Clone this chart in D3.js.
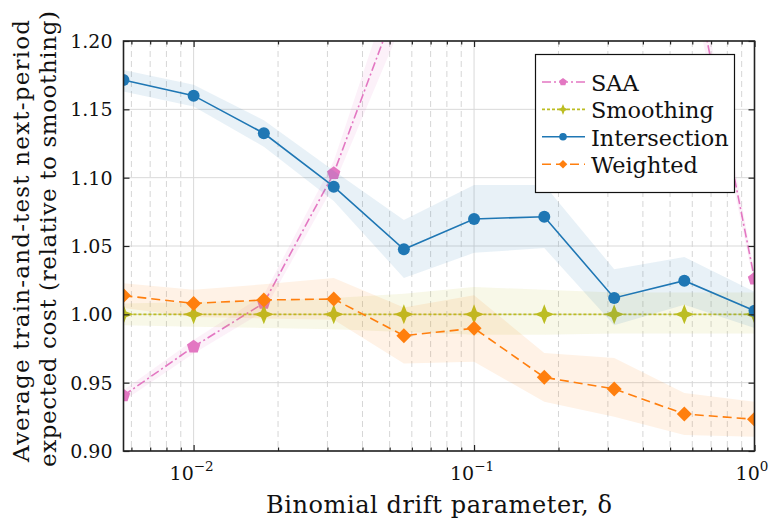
<!DOCTYPE html>
<html>
<head>
<meta charset="utf-8">
<script src="https://cdn.jsdelivr.net/npm/d3@7"></script>
<style>
  body { margin: 0; background: #fff; }
</style>
</head>
<body>
<svg id="chart" width="771" height="522"></svg>
<script>
// drift values (log-spaced, 10^-2.25 ... 10^0)
var deltas = [0.00562, 0.01, 0.0178, 0.0316, 0.0562, 0.1, 0.178, 0.316, 0.562, 1.0];

// SAA goes far off the top of the plot in the middle
var saaMean = [0.9405, 0.9763, 1.0083, 1.1032, 1.241, 1.40, 1.46, 1.41, 1.284, 1.026];
var saaLo   = [0.9365, 0.9713, 1.0023, 1.0942, 1.216, 1.36, 1.42, 1.37, 1.264, 1.021];
var saaHi   = [0.9445, 0.9813, 1.0143, 1.1122, 1.266, 1.44, 1.50, 1.45, 1.304, 1.031];

var smoothMean = [1, 1, 1, 1, 1, 1, 1, 1, 1, 1];
var smoothLo   = [0.992, 0.991, 0.990, 0.989, 0.987, 0.985, 0.985, 0.986, 0.986, 0.986];
var smoothHi   = [1.008, 1.009, 1.010, 1.012, 1.015, 1.020, 1.018, 1.016, 1.016, 1.016];

var interMean = [1.1715, 1.160, 1.1325, 1.0934, 1.0476, 1.0698, 1.0714, 1.012, 1.0246, 1.0027];
var interLo   = [1.163, 1.152, 1.1227, 1.083, 1.0266, 1.045, 1.0485, 0.992, 1.007, 0.990];
var interHi   = [1.1788, 1.168, 1.142, 1.105, 1.069, 1.0946, 1.0946, 1.033, 1.042, 1.0166];

var weightMean = [1.0137, 1.008, 1.0105, 1.0112, 0.9844, 0.9898, 0.9539, 0.9454, 0.9271, 0.9232];
var weightLo   = [1.0047, 0.998, 0.997, 0.996, 0.964, 0.9653, 0.936, 0.925, 0.9117, 0.9105];
var weightHi   = [1.0227, 1.018, 1.022, 1.0266, 1.005, 1.014, 0.9717, 0.968, 0.9424, 0.936];

var yTicks = [0.90, 0.95, 1.00, 1.05, 1.10, 1.15, 1.20];
var xMajor = [0.01, 0.1, 1];
var xMinor = [0.006, 0.007, 0.008, 0.009, 0.02, 0.03, 0.04, 0.05, 0.06, 0.07, 0.08, 0.09,
              0.2, 0.3, 0.4, 0.5, 0.6, 0.7, 0.8, 0.9];
var xExp = {0.01: "\u22122", 0.1: "\u22121", 1: "0"};

var pLeft = 123.5, pRight = 754.5, pTop = 41, pBottom = 451;
var FONT = "'DejaVu Serif', 'Liberation Serif', serif";

var svg = d3.select("#chart");
var x = d3.scaleLog().domain([Math.pow(10, -2.25), 1]).range([pLeft, pRight]);
var y = d3.scaleLinear().domain([0.9, 1.2]).range([pBottom, pTop]);

svg.append("clipPath").attr("id", "clip")
  .append("rect").attr("x", pLeft).attr("y", pTop)
  .attr("width", pRight - pLeft).attr("height", pBottom - pTop);

// grid
var grid = svg.append("g");
grid.selectAll(".hg").data(yTicks).enter().append("line")
  .attr("x1", pLeft).attr("x2", pRight)
  .attr("y1", function (d) { return y(d); }).attr("y2", function (d) { return y(d); })
  .attr("stroke", "#d9d9d9").attr("stroke-width", 1);
grid.selectAll(".vmin").data(xMinor).enter().append("line")
  .attr("x1", function (d) { return x(d); }).attr("x2", function (d) { return x(d); })
  .attr("y1", pTop).attr("y2", pBottom)
  .attr("stroke", "#d6d6d6").attr("stroke-width", 1).attr("stroke-dasharray", "6,4");
grid.selectAll(".vmaj").data(xMajor).enter().append("line")
  .attr("x1", function (d) { return x(d); }).attr("x2", function (d) { return x(d); })
  .attr("y1", pTop).attr("y2", pBottom)
  .attr("stroke", "#d9d9d9").attr("stroke-width", 1);

// marker shapes
function star4(s) {
  var w = s * 0.28;
  return "M0," + (-s) + "L" + w + "," + (-w) + "L" + s + ",0L" + w + "," + w +
    "L0," + s + "L" + (-w) + "," + w + "L" + (-s) + ",0L" + (-w) + "," + (-w) + "Z";
}
function pentagon(r) {
  var p = [];
  for (var i = 0; i < 5; i++) {
    var a = -Math.PI / 2 + i * 2 * Math.PI / 5;
    p.push([r * Math.cos(a), r * Math.sin(a)]);
  }
  return "M" + p.join("L") + "Z";
}
function diamond(r) {
  return "M0," + (-r) + "L" + r + ",0L0," + r + "L" + (-r) + ",0Z";
}
function circle(r) {
  return "M" + r + ",0A" + r + "," + r + " 0 1,1 " + (-r) + ",0A" + r + "," + r + " 0 1,1 " + r + ",0Z";
}

var series = [
  {name: "SAA", color: "#e377c2", mean: saaMean, lo: saaLo, hi: saaHi, dash: "9,3,2,3", shape: pentagon, size: 7, small: 4},
  {name: "Smoothing", color: "#bcbd22", mean: smoothMean, lo: smoothLo, hi: smoothHi, dash: "3,2", shape: star4, size: 10, small: 5.5},
  {name: "Intersection", color: "#1f77b4", mean: interMean, lo: interLo, hi: interHi, dash: null, shape: circle, size: 6, small: 3.8},
  {name: "Weighted", color: "#ff7f0e", mean: weightMean, lo: weightLo, hi: weightHi, dash: "9,5", shape: diamond, size: 7.5, small: 4.3}
];

var plot = svg.append("g").attr("clip-path", "url(#clip)");

series.forEach(function (s) {
  var g = plot.append("g");
  var area = d3.area()
    .x(function (d, i) { return x(deltas[i]); })
    .y0(function (d, i) { return y(s.lo[i]); })
    .y1(function (d, i) { return y(s.hi[i]); });
  g.append("path").datum(s.mean).attr("d", area)
    .attr("fill", s.color).attr("fill-opacity", 0.1);
  var line = d3.line()
    .x(function (d, i) { return x(deltas[i]); })
    .y(function (d) { return y(d); });
  g.append("path").datum(s.mean).attr("d", line)
    .attr("fill", "none").attr("stroke", s.color).attr("stroke-width", 1.6)
    .attr("stroke-dasharray", s.dash);
  g.selectAll(".m").data(s.mean).enter().append("path")
    .attr("transform", function (d, i) { return "translate(" + x(deltas[i]) + "," + y(d) + ")"; })
    .attr("d", s.shape(s.size))
    .attr("fill", s.color);
});

// axes with inward ticks
var axes = svg.append("g");
function strip(sel) { sel.select(".domain").remove(); sel.selectAll("text").remove(); sel.selectAll("line").attr("stroke", "#222").attr("stroke-width", 1.2); }
axes.append("g").attr("transform", "translate(0," + pBottom + ")")
  .call(d3.axisBottom(x).tickValues(xMajor).tickSize(-6)).call(strip);
axes.append("g").attr("transform", "translate(0," + pBottom + ")")
  .call(d3.axisBottom(x).tickValues(xMinor).tickSize(-3.5)).call(strip);
axes.append("g").attr("transform", "translate(0," + pTop + ")")
  .call(d3.axisTop(x).tickValues(xMajor).tickSize(-6)).call(strip);
axes.append("g").attr("transform", "translate(0," + pTop + ")")
  .call(d3.axisTop(x).tickValues(xMinor).tickSize(-3.5)).call(strip);
axes.append("g").attr("transform", "translate(" + pLeft + ",0)")
  .call(d3.axisLeft(y).tickValues(yTicks).tickSize(-6)).call(strip);
axes.append("g").attr("transform", "translate(" + pRight + ",0)")
  .call(d3.axisRight(y).tickValues(yTicks).tickSize(-6)).call(strip);

svg.append("rect").attr("x", pLeft).attr("y", pTop)
  .attr("width", pRight - pLeft).attr("height", pBottom - pTop)
  .attr("fill", "none").attr("stroke", "#222").attr("stroke-width", 1.6);

function txt(sel, size) {
  return sel.style("font-family", FONT).style("font-size", size + "px").attr("fill", "#111");
}

// tick labels
txt(svg.selectAll(".yl").data(yTicks).enter().append("text"), 19)
  .attr("x", pLeft - 11).attr("y", function (d) { return y(d) + 7; })
  .attr("text-anchor", "end")
  .text(function (d) { return d3.format(".2f")(d); });

var xl = txt(svg.selectAll(".xl").data(xMajor).enter().append("text"), 19)
  .attr("x", function (d) { return Math.min(x(d) - 2, 752); }).attr("y", 480)
  .attr("text-anchor", "middle");
xl.append("tspan").text("10");
xl.append("tspan").attr("dy", -9).style("font-size", "13.5px").text(function (d) { return xExp[d]; });

// axis titles
txt(svg.append("text"), 24).attr("x", (pLeft + pRight) / 2).attr("y", 513)
  .attr("text-anchor", "middle").attr("textLength", 346).attr("lengthAdjust", "spacing")
  .text("Binomial drift parameter, \u03b4");
txt(svg.append("text"), 23).attr("transform", "translate(29,241) rotate(-90)")
  .attr("text-anchor", "middle").attr("textLength", 442).attr("lengthAdjust", "spacing")
  .text("Average train-and-test next-period");
txt(svg.append("text"), 23).attr("transform", "translate(56,239) rotate(-90)")
  .attr("text-anchor", "middle").attr("textLength", 456).attr("lengthAdjust", "spacing")
  .text("expected cost (relative to smoothing)");

// legend
var lg = svg.append("g");
lg.append("rect").attr("x", 535.5).attr("y", 54.5).attr("width", 199).attr("height", 138)
  .attr("fill", "#fff").attr("stroke", "#111").attr("stroke-width", 1.2);
var ent = lg.selectAll(".le").data(series).enter().append("g")
  .attr("transform", function (d, i) { return "translate(0," + (82 + i * 27.4) + ")"; });
ent.append("line").attr("x1", 542).attr("x2", 585).attr("y1", 0).attr("y2", 0)
  .attr("stroke", function (d) { return d.color; }).attr("stroke-width", 1.6)
  .attr("stroke-dasharray", function (d) { return d.dash; });
ent.append("path").attr("transform", "translate(563,0)")
  .attr("d", function (d) { return d.shape(d.small); })
  .attr("fill", function (d) { return d.color; });
txt(ent.append("text"), 22.4).attr("x", 591).attr("y", 9)
  .text(function (d) { return d.name; });
</script>
</body>
</html>
